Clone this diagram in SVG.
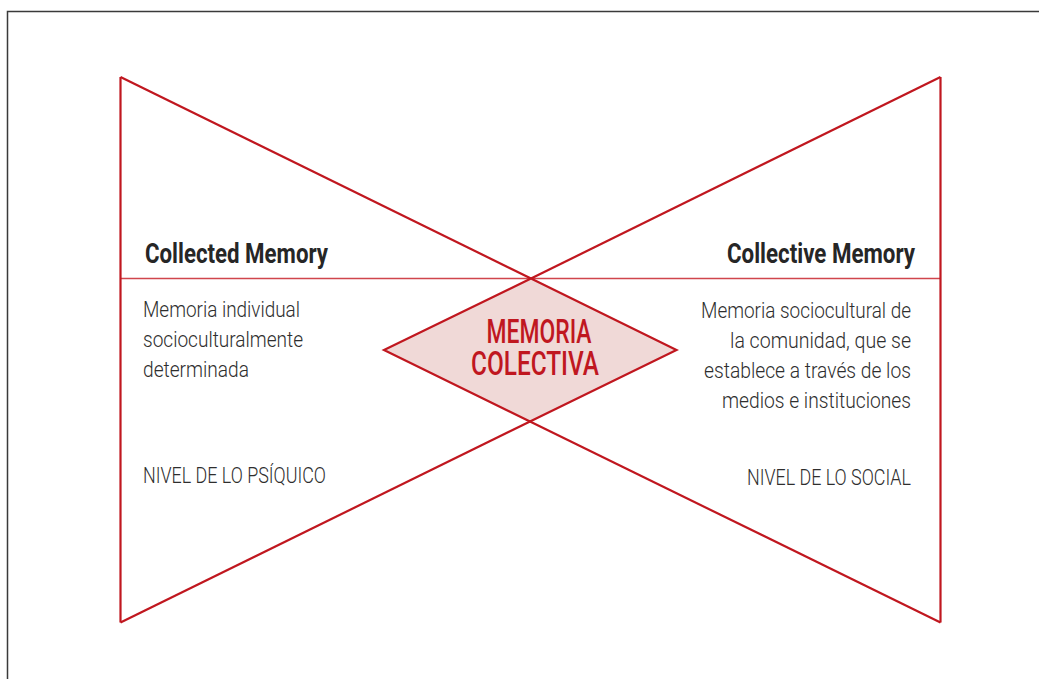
<svg xmlns="http://www.w3.org/2000/svg" width="1039" height="679" viewBox="0 0 1039 679">
<style>
.frame{fill:none;stroke:#3a3a3a;stroke-width:1.5}
.red{fill:none;stroke:#c0171f;stroke-width:2.2;stroke-linejoin:miter}
.hline{stroke:#d0454c;stroke-width:1.5}
.diamond{fill:#f0d9d7;stroke:#c0171f;stroke-width:2.2}
.title{font-family:Roboto,"Liberation Sans",sans-serif;font-weight:700;font-size:28px;fill:#262626}
.body{font-family:Roboto,"Liberation Sans",sans-serif;font-weight:300;font-size:22px;fill:#2e2e2e}
.center{font-family:Roboto,"Liberation Sans",sans-serif;font-weight:500;font-size:33px;fill:#c0171f}
</style>
<rect class="frame" x="7.5" y="11.5" width="1100" height="720"/>
<g id="connectors">
<line class="hline" x1="120.5" y1="278.5" x2="940.5" y2="278.5"/>
<path class="red" d="M120.5,77 L120.5,622.5"/>
<path class="red" d="M940.5,77 L940.5,622.5"/>
<path class="red" d="M120.5,77 L531,278.5"/>
<path class="red" d="M940.5,77 L531,278.5"/>
<path class="red" d="M120.5,622.5 L530,421.5"/>
<path class="red" d="M940.5,622.5 L530,421.5"/>
</g>
<g id="node-center">
<polygon class="diamond" points="531,278.5 676.5,350 530,421.5 384,350"/>
<text class="center"><tspan x="486.5" y="343" textLength="105" lengthAdjust="spacingAndGlyphs">MEMORIA</tspan><tspan x="471" y="375" textLength="128" lengthAdjust="spacingAndGlyphs">COLECTIVA</tspan></text>
</g>
<g id="node-collected">
<text class="title" x="145" y="263" textLength="183" lengthAdjust="spacingAndGlyphs">Collected Memory</text>
<text class="body" x="143" y="317" textLength="157" lengthAdjust="spacingAndGlyphs">Memoria individual</text>
<text class="body" x="143" y="347" textLength="160" lengthAdjust="spacingAndGlyphs">socioculturalmente</text>
<text class="body" x="143" y="377" textLength="106" lengthAdjust="spacingAndGlyphs">determinada</text>
<text class="body" x="143" y="483" textLength="183" lengthAdjust="spacingAndGlyphs">NIVEL DE LO PSÍQUICO</text>
</g>
<g id="node-collective">
<text class="title" x="727" y="263" textLength="188" lengthAdjust="spacingAndGlyphs">Collective Memory</text>
<text class="body" x="701" y="318" textLength="210" lengthAdjust="spacingAndGlyphs">Memoria sociocultural de</text>
<text class="body" x="730" y="348" textLength="181" lengthAdjust="spacingAndGlyphs">la comunidad, que se</text>
<text class="body" x="704" y="378" textLength="207" lengthAdjust="spacingAndGlyphs">establece a través de los</text>
<text class="body" x="722" y="408" textLength="189" lengthAdjust="spacingAndGlyphs">medios e instituciones</text>
<text class="body" x="747" y="485" textLength="164" lengthAdjust="spacingAndGlyphs">NIVEL DE LO SOCIAL</text>
</g>
</svg>
